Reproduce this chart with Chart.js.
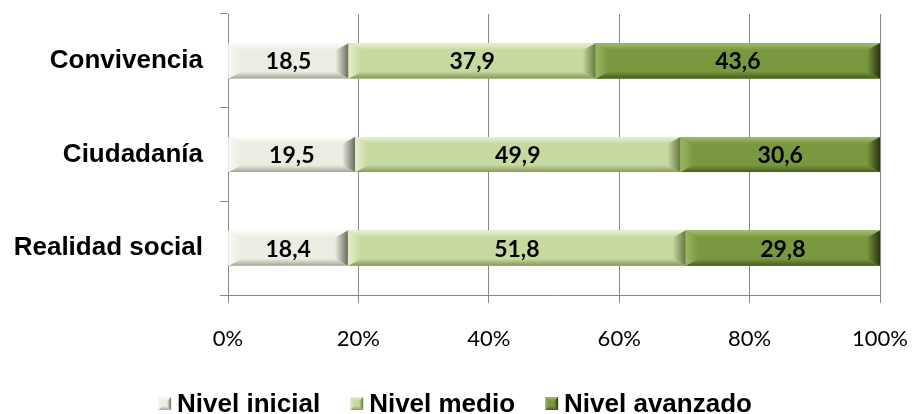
<!DOCTYPE html>
<html>
<head>
<meta charset="utf-8">
<script src="https://cdn.jsdelivr.net/npm/chart.js@4/dist/chart.umd.min.js"></script>
<style>
html,body{margin:0;padding:0;background:#fff;}
#wrap{width:912px;height:414px;position:relative;}
</style>
</head>
<body>
<div id="wrap"><canvas id="c" width="912" height="414"></canvas></div>
<script>
const categories = ['Convivencia', 'Ciudadanía', 'Realidad social'];
const seriesNames = ['Nivel inicial', 'Nivel medio', 'Nivel avanzado'];
const nivelInicial = [18.5, 19.5, 18.4];
const nivelMedio = [37.9, 49.9, 51.8];
const nivelAvanzado = [43.6, 30.6, 29.8];
const xTickValues = [0, 20, 40, 60, 80, 100];

const palettes = [
  {face:'#eaede1', top:'#fbfcf8', bottom:'#a3a796', left:'#f8f9f3', right:'#666a5b'},
  {face:'#c6d99f', top:'#e8f0d5', bottom:'#86985a', left:'#e4edcc', right:'#65753f'},
  {face:'#7a9840', top:'#a4bc6b', bottom:'#465d1e', left:'#9bb560', right:'#28340e'}
];

function bevelRect(ctx, l, t, r, b, p, bw, bh) {
  ctx.save();
  ctx.fillStyle = p.face;
  ctx.fillRect(l, t, r - l, b - t);
  const poly = (pts, fill) => {
    ctx.beginPath();
    ctx.moveTo(pts[0][0], pts[0][1]);
    for (let i = 1; i < pts.length; i++) ctx.lineTo(pts[i][0], pts[i][1]);
    ctx.closePath();
    ctx.fillStyle = fill;
    ctx.fill();
  };
  let g = ctx.createLinearGradient(0, t, 0, t + bh);
  g.addColorStop(0, p.top); g.addColorStop(1, p.face);
  poly([[l, t], [r, t], [r - bw, t + bh], [l + bw, t + bh]], g);
  g = ctx.createLinearGradient(0, b, 0, b - bh);
  g.addColorStop(0, p.bottom); g.addColorStop(1, p.face);
  poly([[l, b], [r, b], [r - bw, b - bh], [l + bw, b - bh]], g);
  g = ctx.createLinearGradient(l, 0, l + bw, 0);
  g.addColorStop(0, p.left); g.addColorStop(1, p.face);
  poly([[l, t], [l + bw, t + bh], [l + bw, b - bh], [l, b]], g);
  g = ctx.createLinearGradient(r, 0, r - bw, 0);
  g.addColorStop(0, p.right); g.addColorStop(1, p.face);
  poly([[r, t], [r - bw, t + bh], [r - bw, b - bh], [r, b]], g);
  ctx.restore();
}

const LEG_P = 36;
function legendMarker(p) {
  const c = document.createElement('canvas');
  c.width = LEG_P + 16; c.height = 16;
  const x = c.getContext('2d');
  bevelRect(x, c.width - 14, 0, c.width - 1, 13, p, 4, 4);
  return c;
}

const bevelPlugin = {
  id: 'bevel',
  afterDatasetsDraw(chart) {
    const ctx = chart.ctx;
    chart.data.datasets.forEach((ds, di) => {
      const meta = chart.getDatasetMeta(di);
      meta.data.forEach((el) => {
        const pr = el.getProps(['x', 'y', 'base', 'height'], true);
        const l = Math.min(pr.x, pr.base), r = Math.max(pr.x, pr.base);
        const t = pr.y - pr.height / 2, b = pr.y + pr.height / 2;
        bevelRect(ctx, l, t, r, b, palettes[di], 13, 7);
      });
    });
    chart.data.datasets.forEach((ds, di) => {
      const meta = chart.getDatasetMeta(di);
      meta.data.forEach((el, i) => {
        const pr = el.getProps(['x', 'y', 'base'], true);
        ctx.save();
        ctx.font = 'bold 23px Lato';
        ctx.fillStyle = '#000';
        ctx.textAlign = 'center';
        ctx.textBaseline = 'middle';
        ctx.fillText(ds.data[i].toFixed(1).replace('.', ','), (pr.x + pr.base) / 2, pr.y + 1);
        ctx.restore();
      });
    });
  }
};

const seriesData = [nivelInicial, nivelMedio, nivelAvanzado];

new Chart(document.getElementById('c'), {
  type: 'bar',
  data: {
    labels: categories,
    datasets: seriesNames.map((n, i) => ({
      label: n,
      data: seriesData[i],
      backgroundColor: palettes[i].face,
      borderWidth: 0,
      categoryPercentage: 1,
      barPercentage: 0.375,
      pointStyle: legendMarker(palettes[i])
    }))
  },
  options: {
    indexAxis: 'y',
    responsive: false,
    animation: false,
    layout: {padding: {top: 14, right: 32, left: 0, bottom: -14}},
    plugins: {
      legend: {
        position: 'bottom',
        labels: {
          usePointStyle: true,
          pointStyleWidth: LEG_P,
          padding: 0,
          color: '#000',
          font: {family: 'Liberation Sans', size: 26, weight: 'bold'}
        }
      },
      tooltip: {enabled: false}
    },
    scales: {
      x: {
        stacked: true,
        min: 0, max: 100,
        afterBuildTicks(scale) { scale.ticks = xTickValues.map(v => ({value: v})); },
        afterFit(scale) { scale.height = 97; scale.paddingLeft = 0; scale.paddingRight = 0; },
        ticks: {
          callback: v => v + '%',
          color: '#000',
          padding: 23,
          maxRotation: 0,
          font: {family: 'Lato', size: 22}
        },
        grid: {color: '#878787', lineWidth: 1, tickLength: 8, drawTicks: true},
        border: {display: true, color: '#878787'}
      },
      y: {
        stacked: true,
        afterFit(scale) { scale.width = 228; scale.paddingTop = 0; scale.paddingBottom = 0; },
        ticks: {
          color: '#000',
          padding: 17,
          font: {family: 'Liberation Sans', size: 26, weight: 'bold'}
        },
        grid: {offset: true, drawOnChartArea: false, color: '#878787', tickLength: 8},
        border: {display: true, color: '#878787'}
      }
    }
  },
  plugins: [bevelPlugin]
});
</script>
</body>
</html>
